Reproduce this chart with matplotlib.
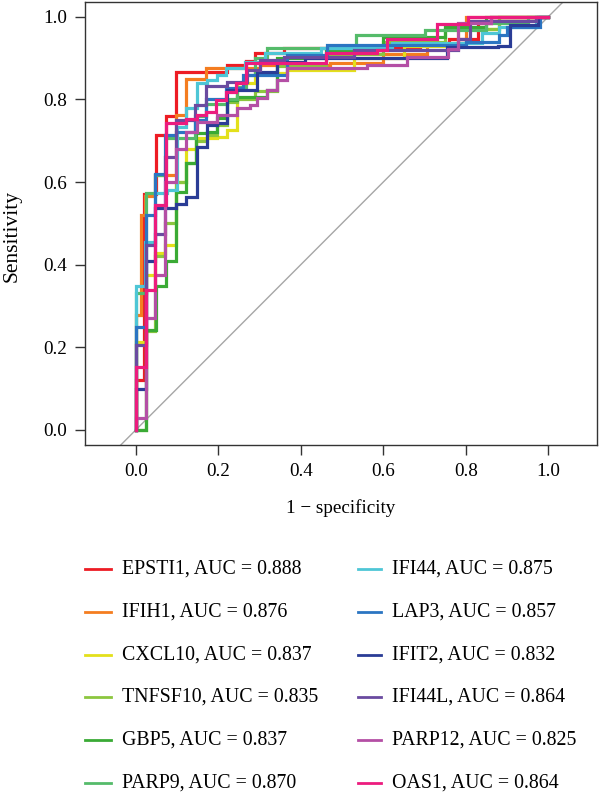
import matplotlib
matplotlib.use("Agg")
import matplotlib.pyplot as plt
from matplotlib.lines import Line2D

plt.rcParams['font.family'] = ['Liberation Serif', 'DejaVu Serif']

genes = ["EPSTI1", "IFIH1", "CXCL10", "TNFSF10", "GBP5", "PARP9",
         "IFI44", "LAP3", "IFIT2", "IFI44L", "PARP12", "OAS1"]
aucs = ["0.888", "0.876", "0.837", "0.835", "0.837", "0.870",
        "0.875", "0.857", "0.832", "0.864", "0.825", "0.864"]
colors = ["#ED1C24", "#F47D20", "#E3E01B", "#8CC63F", "#3AAA35", "#55BB6A",
          "#4EC6D6", "#2B75C2", "#2A3C96", "#6A4BA0", "#B44FA5", "#EC1C7E"]

fpr_EPSTI1 = [0, 0, 0.02, 0.048, 0.073, 0.097, 0.22, 0.267, 0.29, 0.36, 0.69, 0.76, 0.83, 0.86, 1.0]
tpr_EPSTI1 = [0, 0.12, 0.57, 0.714, 0.76, 0.866, 0.883, 0.893, 0.912, 0.925, 0.936, 0.946, 0.985, 1.0, 1.0]

fpr_IFIH1 = [0, 0, 0.012, 0.023, 0.047, 0.097, 0.121, 0.17, 0.3, 0.47, 0.6, 0.706, 0.8, 1.0]
tpr_IFIH1 = [0, 0.278, 0.52, 0.565, 0.617, 0.762, 0.849, 0.875, 0.882, 0.888, 0.91, 0.937, 1.0, 1.0]

fpr_CXCL10 = [0, 0, 0.024, 0.047, 0.071, 0.097, 0.121, 0.145, 0.196, 0.22, 0.245, 0.29, 0.366, 0.53, 0.65, 0.78, 0.88, 1.0]
tpr_CXCL10 = [0, 0.214, 0.375, 0.429, 0.448, 0.6, 0.68, 0.706, 0.71, 0.726, 0.84, 0.865, 0.871, 0.9, 0.93, 0.97, 1.0, 1.0]

fpr_TNFSF10 = [0, 0.024, 0.047, 0.071, 0.097, 0.121, 0.145, 0.172, 0.196, 0.22, 0.245, 0.29, 0.342, 0.46, 0.6, 0.75, 0.88, 1.0]
tpr_TNFSF10 = [0, 0.24, 0.42, 0.5, 0.6, 0.645, 0.70, 0.714, 0.738, 0.794, 0.8, 0.82, 0.88, 0.91, 0.94, 0.97, 1.0, 1.0]

fpr_GBP5 = [0, 0.024, 0.049, 0.073, 0.097, 0.121, 0.145, 0.172, 0.196, 0.22, 0.245, 0.318, 0.342, 0.46, 0.6, 0.75, 0.85, 1.0]
tpr_GBP5 = [0, 0.242, 0.348, 0.41, 0.577, 0.645, 0.718, 0.722, 0.754, 0.798, 0.806, 0.823, 0.9, 0.92, 0.95, 0.975, 1.0, 1.0]

fpr_PARP9 = [0, 0, 0.024, 0.047, 0.073, 0.144, 0.17, 0.22, 0.245, 0.267, 0.29, 0.318, 0.535, 0.7, 0.85, 0.95, 1.0]
tpr_PARP9 = [0, 0.331, 0.573, 0.617, 0.706, 0.76, 0.79, 0.8, 0.83, 0.86, 0.9, 0.925, 0.956, 0.968, 0.985, 1.0, 1.0]

fpr_IFI44 = [0, 0, 0.023, 0.047, 0.075, 0.099, 0.121, 0.148, 0.172, 0.196, 0.219, 0.265, 0.314, 0.45, 0.62, 0.84, 0.88, 0.97, 1.0]
tpr_IFI44 = [0, 0.348, 0.456, 0.573, 0.58, 0.734, 0.779, 0.839, 0.847, 0.859, 0.876, 0.891, 0.911, 0.925, 0.937, 0.96, 0.975, 1.0, 1.0]

fpr_LAP3 = [0, 0, 0.024, 0.047, 0.071, 0.097, 0.144, 0.17, 0.219, 0.26, 0.366, 0.463, 0.8, 0.88, 0.9, 0.98, 1.0]
tpr_LAP3 = [0, 0.25, 0.52, 0.62, 0.714, 0.72, 0.75, 0.8, 0.827, 0.859, 0.907, 0.932, 0.94, 0.956, 0.975, 1.0, 1.0]

fpr_IFIT2 = [0, 0, 0.024, 0.047, 0.098, 0.121, 0.148, 0.172, 0.196, 0.22, 0.293, 0.342, 0.41, 0.754, 0.879, 0.907, 0.975, 1.0]
tpr_IFIT2 = [0, 0.1, 0.41, 0.536, 0.547, 0.564, 0.685, 0.738, 0.742, 0.823, 0.867, 0.89, 0.9, 0.927, 0.93, 0.98, 1.0, 1.0]

fpr_IFI44L = [0, 0, 0.024, 0.047, 0.071, 0.097, 0.144, 0.17, 0.22, 0.269, 0.3, 0.36, 0.53, 0.78, 0.81, 0.97, 1.0]
tpr_IFI44L = [0, 0.206, 0.448, 0.474, 0.661, 0.75, 0.786, 0.832, 0.843, 0.87, 0.895, 0.903, 0.919, 0.946, 0.99, 1.0, 1.0]

fpr_PARP12 = [0, 0, 0.024, 0.047, 0.071, 0.097, 0.121, 0.148, 0.196, 0.245, 0.278, 0.293, 0.318, 0.342, 0.366, 0.56, 0.657, 0.758, 0.782, 0.86, 1.0]
tpr_PARP12 = [0, 0.029, 0.27, 0.375, 0.6, 0.68, 0.72, 0.745, 0.762, 0.778, 0.786, 0.803, 0.823, 0.847, 0.875, 0.883, 0.903, 0.923, 0.984, 1.0, 1.0]

fpr_OAS1 = [0, 0, 0.024, 0.047, 0.073, 0.122, 0.148, 0.17, 0.195, 0.219, 0.243, 0.267, 0.462, 0.584, 0.608, 0.73, 0.806, 1.0]
tpr_OAS1 = [0, 0.153, 0.339, 0.544, 0.742, 0.752, 0.762, 0.77, 0.798, 0.818, 0.839, 0.887, 0.911, 0.919, 0.945, 0.982, 1.0, 1.0]

curves = [(fpr_EPSTI1, tpr_EPSTI1), (fpr_IFIH1, tpr_IFIH1), (fpr_CXCL10, tpr_CXCL10),
          (fpr_TNFSF10, tpr_TNFSF10), (fpr_GBP5, tpr_GBP5), (fpr_PARP9, tpr_PARP9),
          (fpr_IFI44, tpr_IFI44), (fpr_LAP3, tpr_LAP3), (fpr_IFIT2, tpr_IFIT2),
          (fpr_IFI44L, tpr_IFI44L), (fpr_PARP12, tpr_PARP12), (fpr_OAS1, tpr_OAS1)]

ticks = [0.0, 0.2, 0.4, 0.6, 0.8, 1.0]
tick_labels = ["0.0", "0.2", "0.4", "0.6", "0.8", "1.0"]

W, H = 600, 796
fig = plt.figure(figsize=(W / 100, H / 100), dpi=100)
ax = fig.add_axes([85 / W, 1 - 445 / H, (597 - 85) / W, (445 - 2) / H])

ax.axline((0, 0), (1, 1), color="#A6A6A6", lw=1.0, zorder=1)
for i, (f, t) in enumerate(curves):
    ax.step(f, t, where="post", color=colors[i], lw=2.3, zorder=2 + i,
            solid_joinstyle="miter")

ax.set_xlim(-0.123, 1.118)
ax.set_ylim(-0.0363, 1.0356)
ax.set_xticks(ticks)
ax.set_xticklabels(tick_labels)
ax.set_yticks(ticks)
ax.set_yticklabels(tick_labels)
ax.tick_params(direction="out", length=7, width=1.0, labelsize=13.8, pad=6,
               color="#333333")
for s in ax.spines.values():
    s.set_linewidth(1.0)
    s.set_color("#333333")

fig.text(341 / W, 1 - 508 / H, "1 \u2212 specificity", ha="center", va="center",
         fontsize=13.8)
fig.text(12 / W, 1 - 236 / H, "Sensitivity", ha="center", va="center",
         rotation=90, fontsize=15.5)

# legend (two columns, column-major)
row0 = 569
dy = 42.8
for i, g in enumerate(genes):
    col = i // 6
    row = i % 6
    y = 1 - (row0 + dy * row) / H
    if col == 0:
        x0, x1, xt = 85, 111, 122
    else:
        x0, x1, xt = 358, 381, 391.5
    fig.add_artist(Line2D([x0 / W, x1 / W], [y, y], color=colors[i], lw=2.0,
                          transform=fig.transFigure))
    fig.text(xt / W, y, f"{g}, AUC = {aucs[i]}", ha="left", va="center",
             fontsize=14.3)

fig.savefig("out.png", dpi=100)
